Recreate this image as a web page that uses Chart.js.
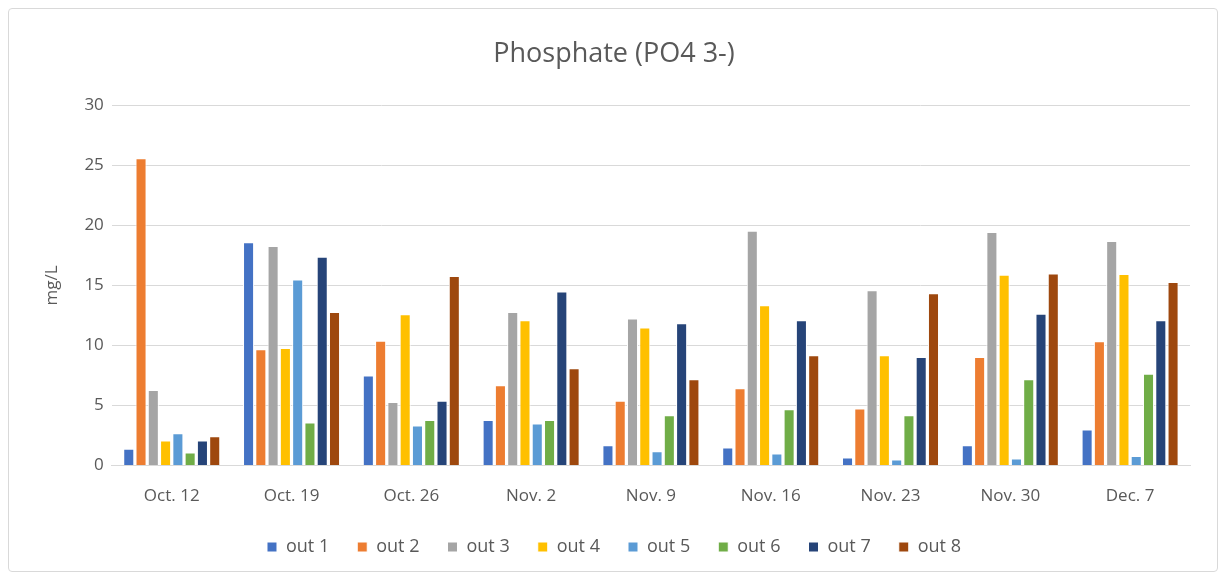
<!DOCTYPE html>
<html>
<head>
<meta charset="utf-8">
<script src="https://cdn.jsdelivr.net/npm/chart.js@4/dist/chart.umd.min.js"></script>
<style>
  html, body { margin: 0; padding: 0; background: #fff; }
  #wrap { position: relative; width: 1226px; height: 580px; }
  #frame { position: absolute; left: 8px; top: 8px; right: 8px; bottom: 8px; border: 1px solid #d9d9d9; border-radius: 4px; pointer-events: none; }
</style>
</head>
<body>
<div id="wrap">
  <canvas id="chart" width="1226" height="580"></canvas>
  <div id="frame"></div>
</div>
<script>
// sampling dates
const dates = ["Oct. 12", "Oct. 19", "Oct. 26", "Nov. 2", "Nov. 9", "Nov. 16", "Nov. 23", "Nov. 30", "Dec. 7"];

// phosphate by outfall, mg/L
const out1 = [1.4, 18.6, 7.5, 3.8, 1.7, 1.5, 0.67, 1.7, 3.0];
const out2 = [25.6, 9.7, 10.4, 6.7, 5.4, 6.45, 4.75, 9.05, 10.35];
const out3 = [6.3, 18.3, 5.3, 12.8, 12.25, 19.55, 14.6, 19.45, 18.7];
const out4 = [2.1, 9.8, 12.6, 12.1, 11.5, 13.35, 9.2, 15.9, 15.95];
const out5 = [2.7, 15.5, 3.35, 3.5, 1.2, 1.0, 0.5, 0.6, 0.8];
const out6 = [1.1, 3.6, 3.8, 3.8, 4.2, 4.7, 4.2, 7.2, 7.65];
const out7 = [2.1, 17.4, 5.4, 14.5, 11.85, 12.1, 9.05, 12.65, 12.1];
const out8 = [2.45, 12.8, 15.8, 8.1, 7.2, 9.2, 14.35, 16.0, 15.3];

const yTicks = [0, 5, 10, 15, 20, 25, 30];

const seriesNames = ["out 1", "out 2", "out 3", "out 4", "out 5", "out 6", "out 7", "out 8"];
const seriesData = [out1, out2, out3, out4, out5, out6, out7, out8];
const colors = ["#4472C4", "#ED7D31", "#A5A5A5", "#FFC000", "#5B9BD5", "#70AD47", "#264478", "#9E480E"];

const FONT = "'Open Sans', 'Liberation Sans', sans-serif";
const TEXT = "#595959";

new Chart(document.getElementById("chart"), {
  type: "bar",
  data: {
    labels: dates,
    datasets: seriesNames.map((name, i) => ({
      label: name,
      data: seriesData[i],
      backgroundColor: colors[i],
      borderColor: "#ffffff",
      borderWidth: 1,
      categoryPercentage: 0.82,
      barPercentage: 0.9
    }))
  },
  options: {
    responsive: false,
    animation: false,
    layout: { padding: { left: 38, right: 36, top: 28, bottom: 14 } },
    plugins: {
      title: {
        display: true,
        text: "Phosphate (PO4 3-)",
        color: TEXT,
        font: { family: FONT, size: 27, weight: "normal" },
        padding: { top: 10, bottom: 35 }
      },
      legend: {
        position: "bottom",
        labels: {
          color: TEXT,
          font: { family: FONT, size: 18 },
          boxWidth: 10,
          boxHeight: 10,
          padding: 28
        }
      },
      tooltip: { enabled: false }
    },
    scales: {
      x: {
        grid: { display: false, drawTicks: false },
        border: { display: true, color: "#d9d9d9", width: 1 },
        ticks: { color: TEXT, font: { family: FONT, size: 17 }, padding: 20 },
        // pull the plot down closer to the legend, like the original
        afterFit: (axis) => { axis.height -= 16; }
      },
      y: {
        min: 0,
        max: 30,
        afterBuildTicks: (axis) => { axis.ticks = yTicks.map((v) => ({ value: v })); },
        grid: { color: "#d9d9d9", lineWidth: 1, drawTicks: false },
        border: { display: false },
        ticks: { color: TEXT, font: { family: FONT, size: 17 }, padding: 8 },
        title: {
          display: true,
          text: "mg/L",
          color: TEXT,
          font: { family: FONT, size: 17 },
          padding: { bottom: 14 }
        }
      }
    }
  }
});
</script>
</body>
</html>
